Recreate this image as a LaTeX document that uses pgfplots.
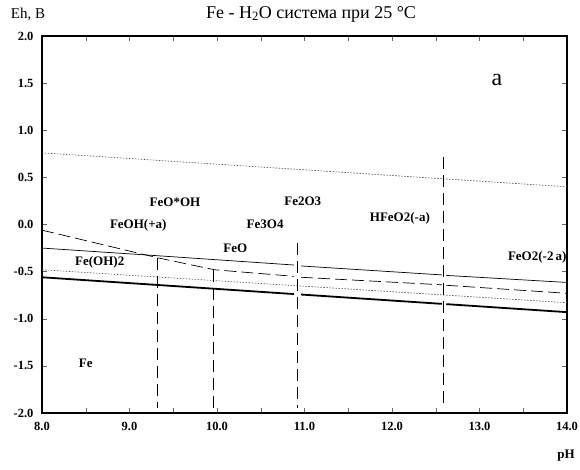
\documentclass[border=0pt]{standalone}
\usepackage{fontspec}
\setmainfont{Liberation Serif}
\usepackage{pgfplots}
\pgfplotsset{compat=1.18}
\begin{document}
\begin{tikzpicture}[x=1pt,y=1pt]
\path[use as bounding box] (0,0) rectangle (580,470);
\begin{axis}[
  at={(42pt,57pt)}, anchor=south west,
  scale only axis, width=525pt, height=377pt,
  xmin=8, xmax=14, ymin=-2, ymax=2,
  axis line style={line width=1.6pt},
  xtick={8,9,...,14}, minor xtick={8.5,9.5,...,13.5},
  ytick={-2,-1.5,...,2},
  tick align=inside, major tick length=5pt, minor tick length=5pt,
  tick style={line width=0.4pt, black!60},
  xtick pos=both, ytick pos=both,
  /pgf/number format/assume math mode=true,
  /pgf/number format/.cd, fixed, fixed zerofill, precision=1, /pgfplots/.cd,
  ticklabel style={font=\bfseries\fontsize{12.5}{12.5}\selectfont},
  xticklabel style={yshift=-6pt},
  yticklabel style={xshift=-5pt},
  clip=false,
]
% water stability lines (dotted)
\addplot[black!70, line width=0.6pt, dash pattern=on 1.5pt off 1.5pt] coordinates {(8,0.76) (14,0.40)};
\addplot[black!70, line width=0.6pt, dash pattern=on 1.5pt off 1.5pt] coordinates {(8,-0.48) (14,-0.83)};
% thick Fe boundary
\addplot[black, line width=1.8pt] coordinates {(8,-0.56) (10.88,-0.738)};
\addplot[black, line width=1.8pt] coordinates {(10.96,-0.743) (12.57,-0.842)};
\addplot[black, line width=1.8pt] coordinates {(12.62,-0.845) (14,-0.93)};
% thin solid
\addplot[black, line width=0.7pt] coordinates {(8,-0.25) (9.3,-0.33) (10.88,-0.43)};
\addplot[black, line width=0.7pt] coordinates {(10.96,-0.44) (12.57,-0.535)};
\addplot[black, line width=0.7pt] coordinates {(12.62,-0.54) (14,-0.615)};
% dashed
\addplot[black, line width=0.7pt, dash pattern=on 12pt off 5pt] coordinates {(8,-0.06) (9.33,-0.355) (9.97,-0.48) (10.88,-0.55)};
\addplot[black, line width=0.7pt, dash pattern=on 12pt off 5pt] coordinates {(10.96,-0.56) (12.57,-0.64)};
\addplot[black, line width=0.7pt, dash pattern=on 12pt off 5pt] coordinates {(12.62,-0.645) (14,-0.73)};
% vertical boundaries
\addplot[black, line width=0.7pt, dash pattern=on 12pt off 6pt] coordinates {(9.32,-0.355) (9.32,-1.95)};
\addplot[black, line width=0.7pt, dash pattern=on 12pt off 6pt] coordinates {(9.96,-0.48) (9.96,-1.95)};
\addplot[black, line width=0.7pt, dash pattern=on 12pt off 6pt] coordinates {(10.92,-0.20) (10.92,-1.95)};
\addplot[black, line width=0.7pt, dash pattern=on 12pt off 6pt] coordinates {(12.59,0.72) (12.59,-1.95)};
% labels
\begin{scope}[every node/.style={font=\bfseries\fontsize{13}{13}\selectfont}]
\node at (axis cs:9.52,0.24) {FeO*OH};
\node at (axis cs:9.10,-0.005) {FeOH(+a)};
\node at (axis cs:10.55,0.005) {Fe3O4};
\node at (axis cs:10.98,0.25) {Fe2O3};
\node at (axis cs:12.09,0.06) {HFeO2(-a)};
\node at (axis cs:10.21,-0.25) {FeO};
\node at (axis cs:8.66,-0.40) {Fe(OH)2};
\node at (axis cs:13.66,-0.345) {FeO2(-2\,a)};
\node at (axis cs:8.50,-1.47) {Fe};
\end{scope}
\node[font=\fontsize{24}{24}\selectfont] at (axis cs:13.2,1.53) {a};
\end{axis}
\node[font=\fontsize{18}{18}\selectfont] at (311,456) {Fe - H\textsubscript{2}O система при 25 °C};
\node[font=\fontsize{15}{15}\selectfont] at (28,456) {Eh, B};
\node[font=\bfseries\fontsize{13}{13}\selectfont] at (566,14) {pH};
\end{tikzpicture}
\end{document}
